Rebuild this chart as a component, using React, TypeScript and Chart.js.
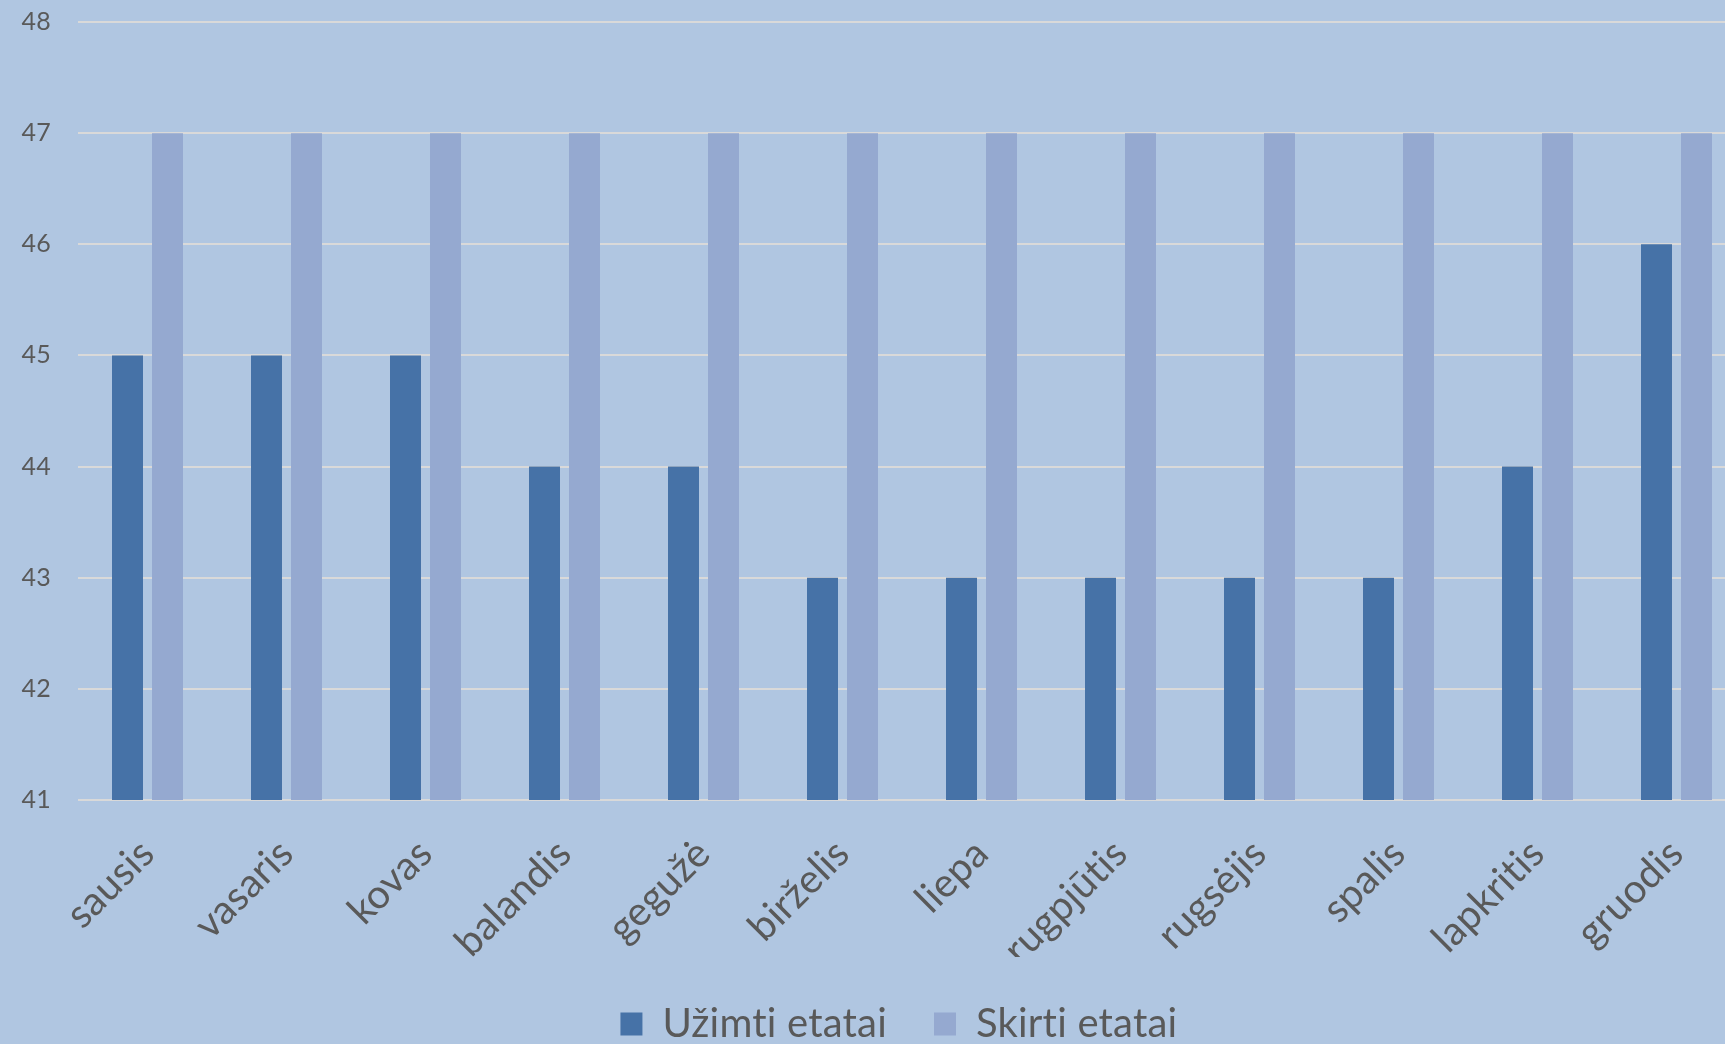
import React, { useEffect, useRef } from "react";
import { Chart, registerables } from "chart.js";

Chart.register(...registerables);

const months = [
  "sausis", "vasaris", "kovas", "balandis", "gegužė", "birželis",
  "liepa", "rugpjūtis", "rugsėjis", "spalis", "lapkritis", "gruodis",
];
const occupied = [45, 45, 45, 44, 44, 43, 43, 43, 43, 43, 44, 46];
const allocated = [47, 47, 47, 47, 47, 47, 47, 47, 47, 47, 47, 47];
const seriesNames = ["Užimti etatai", "Skirti etatai"];
const yMin = 41;
const yMax = 48;

const BG = "#b0c6e1";
const TEXT = "#595959";
const FONT = "Lato, 'Open Sans', sans-serif";

const noLigatures = {
  id: "noLigatures",
  beforeDraw(chart: any) {
    try {
      chart.ctx.letterSpacing = "0.2px";
    } catch (e) {}
  },
};

export default function App() {
  const ref = useRef<HTMLCanvasElement | null>(null);
  useEffect(() => {
    if (!ref.current) return;
    const chart = new Chart(ref.current, {
      type: "bar",
      plugins: [noLigatures],
      data: {
        labels: months,
        datasets: [
          {
            label: seriesNames[0],
            data: occupied,
            backgroundColor: "#4672a7",
            borderWidth: 0,
          },
          {
            label: seriesNames[1],
            data: allocated,
            backgroundColor: "#95a9d0",
            borderWidth: 0,
          },
        ],
      },
      options: {
        animation: false,
        responsive: false,
        maintainAspectRatio: false,
        datasets: {
          bar: { categoryPercentage: 0.5755, barPercentage: 0.775 },
        },
        layout: { padding: { top: 22, bottom: 0, left: 0, right: 0 } },
        plugins: {
          tooltip: { enabled: false },
          legend: {
            position: "bottom",
            labels: {
              color: TEXT,
              font: { family: FONT, size: 40 },
              boxWidth: 22,
              boxHeight: 23,
              padding: 47,
            },
          },
        },
        scales: {
          x: {
            grid: { display: false, drawTicks: false },
            border: { display: false },
            ticks: {
              color: TEXT,
              font: { family: FONT, size: 40 },
              minRotation: 45,
              maxRotation: 45,
              padding: 30,
            },
            afterFit: (s: any) => {
              s.height = 157;
              s.paddingLeft = 0;
              s.paddingRight = 48;
            },
          },
          y: {
            min: yMin,
            max: yMax,
            grid: { color: "#d9d9d9", lineWidth: 2, drawTicks: false },
            border: { display: false },
            ticks: {
              stepSize: 1,
              color: TEXT,
              font: { family: FONT, size: 25 },
              padding: 27,
            },
            afterFit: (s: any) => {
              s.width = 78;
              s.paddingTop = 0;
              s.paddingBottom = 0;
            },
          },
        },
      },
    });
    return () => chart.destroy();
  }, []);
  return (
    <div
      style={{
        position: "fixed",
        left: 0,
        top: 0,
        width: 1725,
        height: 1044,
        overflow: "hidden",
        background: BG,
      }}
    >
      <canvas
        ref={ref}
        width={1794}
        height={1054}
        style={{ position: "absolute", left: 0, top: 0, width: 1794, height: 1054 }}
      />
    </div>
  );
}
